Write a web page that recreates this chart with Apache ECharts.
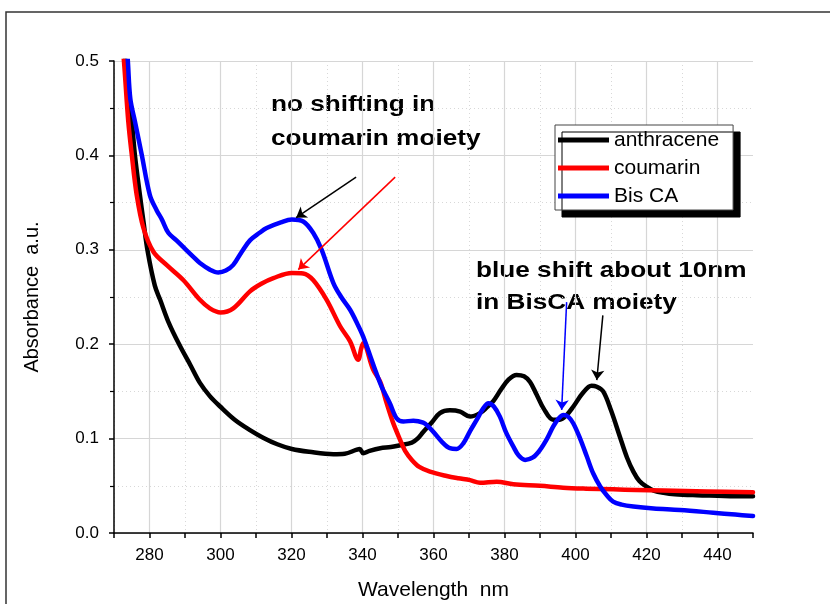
<!DOCTYPE html>
<html><head><meta charset="utf-8">
<script src="https://cdn.jsdelivr.net/npm/echarts@6.0.0/dist/echarts.min.js"></script>
<style>html,body{margin:0;padding:0;background:#fff}#c{width:830px;height:604px}</style>
</head><body><div id="c"></div>
<script>
const seriesNames = ['anthracene', 'coumarin', 'Bis CA'];
const seriesColors = ['#000000', '#ff0000', '#0000ff'];

const anthraceneWl = [272.4,273.2,274,275,275.9,277.3,278.3,279.5,281.5,283,285.5,288.6,291.5,294.2,297,299.9,304,308.3,312,316,320.1,325,331.8,335,338.2,339.2,340.2,342,345,348,350.6,353.9,355.5,357.1,359.5,361.8,364.6,367.5,370.3,373.1,375,376.9,379,381,383.4,385.5,387.2,389,391,393.7,395.6,397.5,399.4,402,404.5,406,407.8,410,412.5,414.5,416.3,418,420,422,424.8,428,434.2,440,445,450];
const anthraceneAbs = [0.53,0.50,0.47,0.437,0.40,0.358,0.33,0.298,0.262,0.247,0.222,0.198,0.178,0.159,0.145,0.134,0.120,0.109,0.101,0.094,0.089,0.086,0.0835,0.084,0.088,0.089,0.0845,0.087,0.0898,0.091,0.093,0.0958,0.100,0.107,0.117,0.127,0.130,0.1286,0.1233,0.127,0.133,0.140,0.152,0.162,0.1675,0.166,0.160,0.147,0.132,0.120,0.120,0.125,0.134,0.148,0.156,0.155,0.150,0.130,0.102,0.080,0.065,0.055,0.049,0.045,0.0425,0.041,0.040,0.0395,0.039,0.039];

const coumarinWl = [272,272.8,274,275,276.4,278.3,281.1,284.8,289.5,294.2,297,300,303.6,308.3,311.5,314.9,320.1,323.3,326.1,329.9,333.7,336.5,338.8,339.6,340.2,343,345,346.8,348.5,350.6,352,353.9,356,359,363.7,367,370.3,373.1,377.8,382.5,390,396.5,403,410.6,417,424.8,437,450];
const coumarinAbs = [0.53,0.50,0.437,0.401,0.358,0.323,0.298,0.284,0.268,0.247,0.238,0.2336,0.238,0.256,0.264,0.270,0.2755,0.275,0.268,0.247,0.219,0.203,0.1835,0.195,0.201,0.173,0.160,0.1375,0.118,0.0986,0.087,0.0774,0.070,0.065,0.0604,0.058,0.056,0.0533,0.0544,0.0516,0.050,0.048,0.047,0.0463,0.0455,0.0449,0.044,0.0432];

const bisCAWl = [273.3,273.9,274.6,275.9,277.8,280.1,282,283.5,285.3,287.6,290.3,292.5,294.2,297,299.4,301.5,303.6,306,308.3,311,313,317,320.1,323.3,326.1,328.5,331.8,334,336.5,338.5,340.2,343.9,345.5,347.7,349.6,351.5,354.3,357.1,358.5,360,362.5,364.6,366.5,368.4,370.3,372.2,374,375.5,377,378.7,380.5,382.5,384,385.8,388,390,392,393.7,395.2,396.6,398,399.4,401.3,403.2,405,407,408.8,410.6,413,416.3,422,429.4,438.8,445,450];
const bisCAAbs = [0.53,0.50,0.46,0.436,0.401,0.358,0.342,0.332,0.318,0.310,0.300,0.292,0.286,0.279,0.276,0.278,0.284,0.298,0.310,0.318,0.323,0.329,0.332,0.330,0.318,0.300,0.2648,0.250,0.2365,0.222,0.208,0.1694,0.154,0.1375,0.1216,0.118,0.119,0.117,0.113,0.107,0.096,0.0898,0.089,0.095,0.108,0.120,0.132,0.1375,0.134,0.1233,0.106,0.0915,0.082,0.0774,0.080,0.088,0.100,0.1127,0.121,0.125,0.123,0.116,0.100,0.081,0.063,0.049,0.040,0.0332,0.030,0.028,0.026,0.0244,0.0215,0.0195,0.018];

// annotation arrows in data coordinates: [from, to]
const anthraceneArrows = [[[338.2, 0.377], [321.3, 0.334]], [[407.7, 0.2305], [406.0, 0.162]]];
const coumarinArrows = [[[349.2, 0.377], [321.9, 0.279]]];
const bisCAArrows = [[[397.5, 0.2446], [396.1, 0.1304]]];

const annotation1 = ['no shifting in', 'coumarin moiety'];
const annotation2 = ['blue shift about 10nm', 'in BisCA moiety'];

const xAxisName = 'Wavelength  nm';
const yAxisName = 'Absorbance  a.u.';

const FONT = 'Liberation Sans, Arial, sans-serif';
const toPairs = (xs, ys) => xs.map((x, i) => [x, ys[i]]);
const arrowMarks = (arrows, color) => ({
  silent: true,
  symbol: ['none', 'arrow'],
  symbolSize: 10,
  label: { show: false },
  lineStyle: { color: color, width: 1.5, type: 'solid' },
  emphasis: { disabled: true },
  data: arrows.map(a => [{ coord: a[0] }, { coord: a[1] }])
});

const mkSeries = (name, color, xs, ys, arrows) => ({
  name: name,
  type: 'line',
  xAxisIndex: 0,
  data: toPairs(xs, ys),
  showSymbol: false,
  symbol: 'none',
  smooth: 0.35,
  lineStyle: { color: color, width: 4.5, join: 'round', cap: 'round' },
  itemStyle: { color: color },
  emphasis: { disabled: true },
  clip: true,
  markLine: arrowMarks(arrows, color)
});

const chart = echarts.init(document.getElementById('c'), null, { renderer: 'canvas' });
chart.setOption({
  animation: false,
  backgroundColor: '#ffffff',
  grid: { left: 114, right: 77, top: 61, bottom: 71, containLabel: false, outerBoundsMode: 'none' },
  xAxis: [{
    type: 'value', min: 270, max: 450, interval: 10,
    name: xAxisName, nameLocation: 'middle', nameGap: 47,
    nameTextStyle: { fontFamily: FONT, fontSize: 21, color: '#000' },
    axisLine: { lineStyle: { color: '#000', width: 1.5 } },
    axisTick: { show: true, inside: false, length: 5, lineStyle: { color: '#000', width: 1.5 } },
    axisLabel: { fontFamily: FONT, fontSize: 17, color: '#000', margin: 14,
      formatter: v => (v % 20 === 0 ? String(v) : '') },
    splitLine: { show: true, showMaxLine: false, lineStyle: { color: ['rgba(0,0,0,0)', '#d6d6d6'], width: 1.2, type: 'solid' } }
  }, {
    type: 'value', min: 270, max: 450, interval: 10, position: 'bottom',
    axisLine: { show: false }, axisTick: { show: false }, axisLabel: { show: false },
    splitLine: { show: true, showMaxLine: false, lineStyle: { color: ['#d8d8d8', 'rgba(0,0,0,0)'], width: 1, type: [1, 3] } }
  }],
  yAxis: {
    type: 'value', min: 0, max: 0.5, interval: 0.1,
    name: yAxisName, nameLocation: 'middle', nameGap: 72, nameRotate: 90,
    nameTextStyle: { fontFamily: FONT, fontSize: 20, color: '#000' },
    axisLine: { show: true, lineStyle: { color: '#000', width: 1.5 } },
    axisTick: { show: true, inside: false, length: 5, lineStyle: { color: '#000', width: 1.5 } },
    minorTick: { show: true, splitNumber: 2, length: 4, lineStyle: { color: '#000', width: 1.2 } },
    axisLabel: { fontFamily: FONT, fontSize: 17, color: '#000', margin: 15, formatter: v => v.toFixed(1) },
    splitLine: { show: true, lineStyle: { color: '#d6d6d6', width: 1.2 } },
    minorSplitLine: { show: true, lineStyle: { color: '#d8d8d8', width: 1, type: [1, 3] } }
  },
  legend: {
    data: seriesNames, orient: 'vertical', left: 555, top: 125,
    icon: 'rect', itemWidth: 51, itemHeight: 5, itemGap: 6,
    padding: [4, 14, 3, 3], selectedMode: false,
    backgroundColor: '#ffffff', borderColor: '#444', borderWidth: 1,
    shadowColor: '#000', shadowOffsetX: 7, shadowOffsetY: 7, shadowBlur: 0,
    textStyle: { fontFamily: FONT, fontSize: 21, color: '#000', lineHeight: 22 }
  },
  graphic: [
    { type: 'rect', silent: true, z: -10, shape: { x: 6, y: 12, width: 840, height: 620 },
      style: { fill: 'none', stroke: '#333', lineWidth: 1.5 } },
    { type: 'text', x: 271, y: 88.5, scaleX: 1.19, silent: true,
      style: { text: annotation1.join('\n'), font: 'bold 22px ' + FONT, fill: '#000', lineHeight: 33.5, verticalAlign: 'top', align: 'left' } },
    { type: 'text', x: 476, y: 254.5, scaleX: 1.19, silent: true,
      style: { text: annotation2.join('\n'), font: 'bold 22px ' + FONT, fill: '#000', lineHeight: 32, verticalAlign: 'top', align: 'left' } }
  ],
  series: [
    mkSeries(seriesNames[0], seriesColors[0], anthraceneWl, anthraceneAbs, anthraceneArrows),
    mkSeries(seriesNames[1], seriesColors[1], coumarinWl, coumarinAbs, coumarinArrows),
    mkSeries(seriesNames[2], seriesColors[2], bisCAWl, bisCAAbs, bisCAArrows)
  ]
});
</script></body></html>
